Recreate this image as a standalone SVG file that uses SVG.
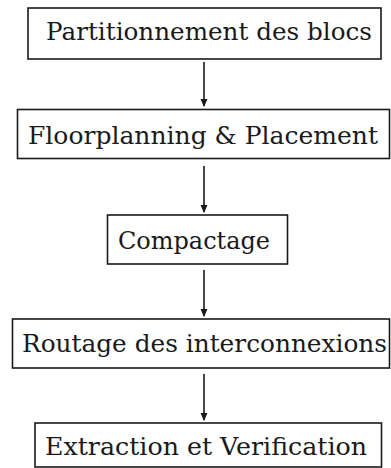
<svg xmlns="http://www.w3.org/2000/svg" width="391" height="468" viewBox="0 0 391 468">
  <style>
    .box { fill: #fff; stroke: #1a1a1a; stroke-width: 1.6; }
    .lbl { font-family: "DejaVu Serif", "Liberation Serif", serif; font-size: 24px; fill: #1a1a1a; }
    .arr { stroke: #1a1a1a; stroke-width: 1.6; fill: none; }
  </style>
  <defs>
    <marker id="head" viewBox="0 0 8 8" refX="7" refY="4" markerWidth="8" markerHeight="8" markerUnits="userSpaceOnUse" orient="auto">
      <path d="M0,0.5 L8,4 L0,7.5 Z" fill="#1a1a1a"/>
    </marker>
  </defs>
  <rect width="391" height="468" fill="#fff"/>

  <g id="connectors">
    <line class="arr" x1="204" y1="62" x2="204" y2="106" marker-end="url(#head)"/>
    <line class="arr" x1="204" y1="166" x2="204" y2="212" marker-end="url(#head)"/>
    <line class="arr" x1="204" y1="270" x2="204" y2="316" marker-end="url(#head)"/>
    <line class="arr" x1="204" y1="374" x2="204" y2="420" marker-end="url(#head)"/>
  </g>

  <g id="partitionnement">
    <rect class="box" x="28" y="8" width="353" height="51"/>
    <text class="lbl" x="46" y="40" textLength="326" lengthAdjust="spacingAndGlyphs">Partitionnement des blocs</text>
  </g>

  <g id="floorplanning">
    <rect class="box" x="17.5" y="109.5" width="372" height="49"/>
    <text class="lbl" x="28" y="144" textLength="350" lengthAdjust="spacingAndGlyphs">Floorplanning &amp; Placement</text>
  </g>

  <g id="compactage">
    <rect class="box" x="107.5" y="215" width="180" height="49"/>
    <text class="lbl" x="118" y="249" textLength="152" lengthAdjust="spacingAndGlyphs">Compactage</text>
  </g>

  <g id="routage">
    <rect class="box" x="12.5" y="319" width="377" height="49"/>
    <text class="lbl" x="22" y="352" textLength="365" lengthAdjust="spacingAndGlyphs">Routage des interconnexions</text>
  </g>

  <g id="extraction">
    <rect class="box" x="35" y="423" width="346.5" height="44"/>
    <text class="lbl" x="45" y="455" textLength="322" lengthAdjust="spacingAndGlyphs">Extraction et Verification</text>
  </g>
</svg>
